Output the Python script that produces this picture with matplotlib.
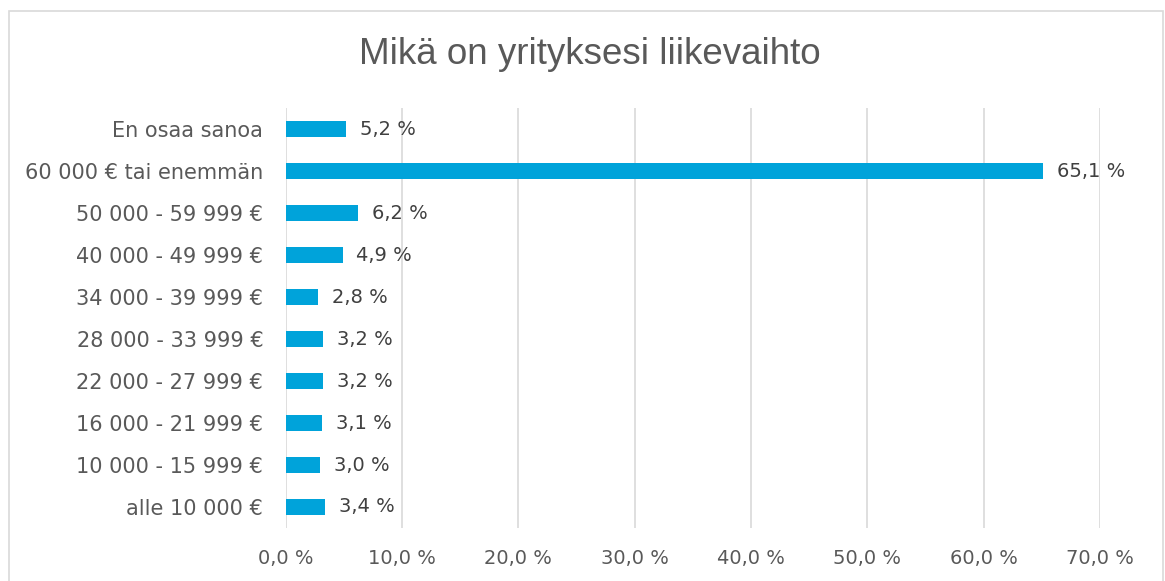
import matplotlib
matplotlib.use("Agg")
import matplotlib.pyplot as plt
from matplotlib.patches import Rectangle

categories = ["En osaa sanoa", "60 000 € tai enemmän", "50 000 - 59 999 €", "40 000 - 49 999 €",
              "34 000 - 39 999 €", "28 000 - 33 999 €", "22 000 - 27 999 €", "16 000 - 21 999 €",
              "10 000 - 15 999 €", "alle 10 000 €"]
values = [5.2, 65.1, 6.2, 4.9, 2.8, 3.2, 3.2, 3.1, 3.0, 3.4]
xticks = [0, 10, 20, 30, 40, 50, 60, 70]
title = "Mikä on yrityksesi liikevaihto"

W, H = 1165, 581
fig = plt.figure(figsize=(W / 100, H / 100), dpi=100)
fig.patches.append(Rectangle((8.5 / W, -0.01), (1162.5 - 8.5) / W, 1 - 11.5 / H + 0.01,
                             transform=fig.transFigure, fill=False, edgecolor="#D9D9D9", linewidth=1.2))

left, right = 285.5, 1100
top, bottom = 108, 528
ax = fig.add_axes([left / W, 1 - bottom / H, (right - left) / W, (bottom - top) / H])

lab_font = dict(family="DejaVu Sans")
fs = 14
ypos = list(range(len(categories)))
ax.barh(ypos, values, height=0.36, color="#00A3DA", zorder=3)
ax.set_ylim(len(categories) - 0.5, -0.5)
ax.set_xlim(0, 70)
ax.set_yticks(ypos)
ax.set_yticklabels(categories, fontsize=15, color="#595959", **lab_font)
ax.set_xticks(xticks)
ax.set_xticklabels([f"{t},0 %" for t in xticks], fontsize=fs, color="#595959", **lab_font)
ax.tick_params(axis="both", length=0)
ax.tick_params(axis="y", pad=16)
ax.tick_params(axis="x", pad=15)
ax.grid(axis="x", color="#D9D9D9", linewidth=1.2, zorder=0)
for s in ax.spines.values():
    s.set_visible(False)

for y, v in zip(ypos, values):
    ax.text(v + 1.2, y, f"{v:.1f} %".replace(".", ","), va="center", ha="left",
            fontsize=fs, color="#404040", **lab_font)

fig.text(590 / W, 1 - 54 / H, title, ha="center", va="center", fontsize=26.5,
         family="Liberation Sans", color="#595959")

fig.savefig("out.png", dpi=100)
